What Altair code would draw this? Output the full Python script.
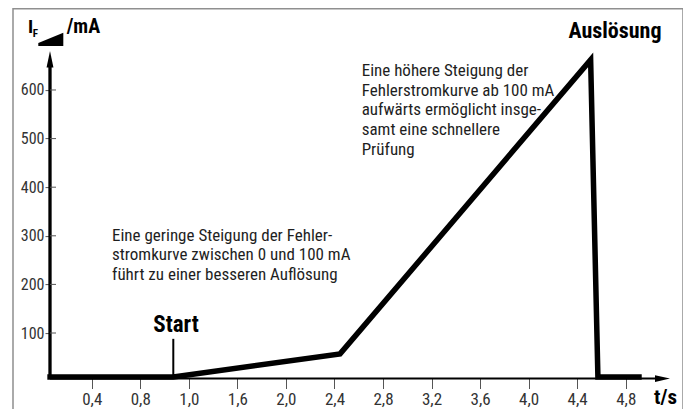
import altair as alt
import pandas as pd

# ---- data ----
curve_t = [0.034, 1.072, 2.446, 4.511, 4.571, 4.932]   # t / s
curve_i = [9.5, 9.5, 57, 662, 9.5, 9.5]                # I_F / mA
start_t = [1.072]
start_i = [9.5]
start_i2 = [88]
x_tick_vals = [0.4, 0.8, 1.2, 1.6, 2.0, 2.4, 2.8, 3.2, 3.6, 4.0, 4.4, 4.8]
x_tick_labels = ["0,4", "0,8", "1,0", "1,6", "2,0", "2,4", "2,8", "3,2", "3,6", "4,0", "4,4", "4,8"]
y_tick_vals = [100, 200, 300, 400, 500, 600]
note1_lines = ["Eine geringe Steigung der Fehler-",
               "stromkurve zwischen 0 und 100 mA",
               "führt zu einer besseren Auflösung"]
note2_lines = ["Eine höhere Steigung der",
               "Fehlerstromkurve ab 100 mA",
               "aufwärts ermöglicht insge-",
               "samt eine schnellere",
               "Prüfung"]

T_MIN, T_MAX = 0.056, 5.165
I_MIN, I_MAX = 6.4, 680
X_AXIS_END = 5.058
Y_AXIS_END = 650

FONT = "Roboto Condensed, DejaVu Sans Condensed, Liberation Sans Narrow, Roboto, sans-serif"

W, H = 620, 327.4

label_expr = "{}[indexof({}, datum.value)]".format(
    "[" + ",".join("'%s'" % s for s in x_tick_labels) + "]",
    "[" + ",".join(str(v) for v in x_tick_vals) + "]",
)

x_axis = alt.Axis(values=x_tick_vals, labelExpr=label_expr, domain=False, grid=False,
                  ticks=True, tickSize=10, tickColor="#555", tickWidth=1,
                  labelFont=FONT, labelFontSize=17, labelColor="#333",
                  labelPadding=3, labelFlush=False, labelOverlap=False, title=None)
y_axis = alt.Axis(values=y_tick_vals, format="d", domain=False, grid=False,
                  ticks=True, tickSize=5, tickColor="#555", tickWidth=1,
                  labelFont=FONT, labelFontSize=16, labelColor="#333",
                  labelPadding=1, labelFlush=False, labelOverlap=False, title=None)

X = alt.X("t:Q", scale=alt.Scale(domain=[T_MIN, T_MAX], nice=False, zero=False), axis=x_axis)
Y = alt.Y("i:Q", scale=alt.Scale(domain=[I_MIN, I_MAX], nice=False, zero=False), axis=y_axis)

curve_df = pd.DataFrame({"t": curve_t, "i": curve_i, "k": list(range(len(curve_t)))})
curve = alt.Chart(curve_df).mark_line(
    color="black", strokeWidth=5.5, strokeJoin="miter", strokeCap="butt"
).encode(x=X, y=Y, order="k:Q")

start_df = pd.DataFrame({"t": start_t, "i": start_i, "i2": start_i2})
start_rule = alt.Chart(start_df).mark_rule(color="black", strokeWidth=2).encode(x=X, y=Y, y2="i2:Q")

yline = alt.Chart(pd.DataFrame({"t": [T_MIN], "i": [I_MIN], "i2": [Y_AXIS_END]})).mark_rule(
    color="black", strokeWidth=3.3).encode(x=X, y=Y, y2="i2:Q")
xline = alt.Chart(pd.DataFrame({"t": [T_MIN], "t2": [X_AXIS_END], "i": [I_MIN]})).mark_rule(
    color="black", strokeWidth=2).encode(x=X, x2="t2:Q", y=Y)

y_arrow = alt.Chart(pd.DataFrame({"t": [T_MIN], "i": [I_MAX]})).mark_point(
    shape="M0,0L0.42,2L-0.42,2Z", size=269, filled=True, color="black", opacity=1, strokeWidth=0
).encode(x=X, y=Y)
x_arrow = alt.Chart(pd.DataFrame({"t": [T_MAX], "i": [I_MIN]})).mark_point(
    shape="M0,0L-2,-0.45L-2,0.45Z", size=225, filled=True, color="black", opacity=1, strokeWidth=0
).encode(x=X, y=Y)

ytick_in = alt.Chart(pd.DataFrame({"i": y_tick_vals})).mark_rule(color="#555", strokeWidth=1).encode(
    x=alt.value(0), x2=alt.value(6), y=Y)

one = pd.DataFrame({"a": [0]})

frame = alt.Chart(one).mark_rect(fill=None, stroke="#8f8f8f", strokeWidth=1.5).encode(
    x=alt.value(-37), x2=alt.value(633), y=alt.value(-42.4), y2=alt.value(370))

def label(text, x, y, size, bold=True, align="left", baseline="alphabetic", color="black", lh=None):
    kw = dict(text=text, font=FONT, fontSize=size, fontWeight="bold" if bold else "normal",
              align=align, baseline=baseline, color=color)
    if lh is not None:
        kw["lineHeight"] = lh
    return alt.Chart(one).mark_text(**kw).encode(x=alt.value(x), y=alt.value(y))

ramp = alt.Chart(one).mark_point(
    shape="M0,0L0,-3L25,-13.3L25,0Z", size=4, filled=True, color="black", opacity=1, strokeWidth=0
).encode(x=alt.value(-11.7), y=alt.value(-5.1))

texts = [
    label("I", -22, -17.8, 19),
    label("F", -17.2, -13.8, 11),
    label("/mA", 16.7, -17.8, 20),
    label("Auslösung", 565, -13.6, 22, align="center"),
    label("Start", 126, 281.2, 23, align="center"),
    label("t/s", 615.5, 352.4, 21, align="center"),
    label(note1_lines, 62, 189.4, 17, bold=False, color="#1e1e1e", lh=19.7),
    label(note2_lines, 311.7, 24.9, 17, bold=False, color="#1e1e1e", lh=19.7),
]

chart = alt.layer(
    frame, curve, start_rule, yline, xline, ytick_in, y_arrow, x_arrow, ramp, *texts
).properties(
    width=W, height=H,
    autosize=alt.AutoSizeParams(type="none"),
    padding={"left": 42, "top": 43.1, "right": 13, "bottom": 30.5},
    background="white",
).configure_view(stroke=None)

chart.save("out.html", embed_options={"renderer": "svg", "actions": False})
